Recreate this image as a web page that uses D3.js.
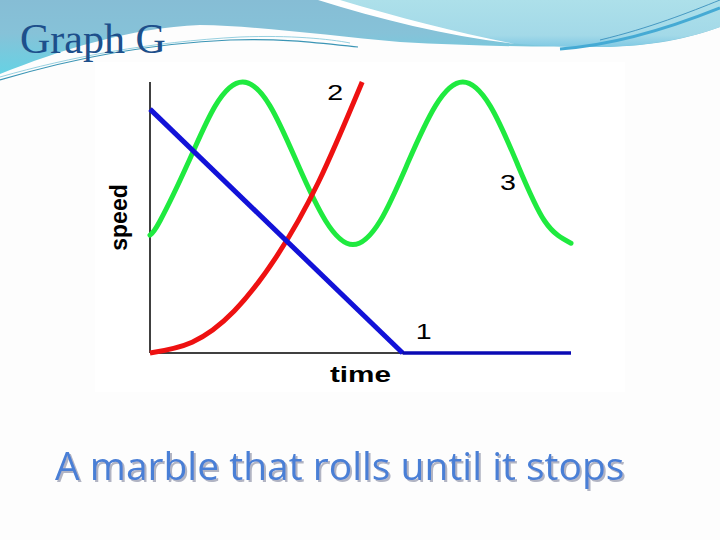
<!DOCTYPE html>
<html>
<head>
<meta charset="utf-8">
<script src="https://cdn.jsdelivr.net/npm/d3@7"></script>
<style>
  html, body { margin: 0; padding: 0; background: #ffffff; }
  svg { display: block; }
</style>
</head>
<body>
<div class="canvas"></div>
<script>
// values (time, speed)
const blueTime = [0, 6, 10]
const blueSpeed = [9, 0, 0]
const redTime = [0, 1, 2, 3, 4, 5.04]
const redSpeed = [0, 0.4, 1.55, 3.55, 6.3, 10]
const greenTime = [0, 0.24, 0.9, 1.55, 2.2, 2.85, 3.5, 4.17, 4.82, 5.47, 6.12, 6.78, 7.43, 8.08, 8.72, 9.37, 10]
const greenSpeed = [4.35, 4.88, 7, 9.12, 10, 9.12, 7, 4.88, 4, 4.88, 7, 9.12, 10, 9.12, 7, 4.88, 4.05]
const curveLabels = [
  { name: "1", time: 6.5, speed: 0.5 },
  { name: "2", time: 4.4, speed: 9.35 },
  { name: "3", time: 8.5, speed: 6.0 }
]

const W = 720, H = 540
const svg = d3
  .select(".canvas")
  .append("svg")
  .attr("width", W)
  .attr("height", H)

// slide background
const defs = svg.append("defs")
const g1 = defs.append("linearGradient").attr("id", "band")
  .attr("x1", 0).attr("y1", 0).attr("x2", 0).attr("y2", 1)
g1.append("stop").attr("offset", "0%").attr("stop-color", "#86bdd5")
g1.append("stop").attr("offset", "45%").attr("stop-color", "#86c2d8")
g1.append("stop").attr("offset", "100%").attr("stop-color", "#66d2e4")
const g2 = defs.append("linearGradient").attr("id", "rightBand")
  .attr("x1", 0).attr("y1", 0).attr("x2", 0).attr("y2", 1)
g2.append("stop").attr("offset", "0%").attr("stop-color", "#ade0ea")
g2.append("stop").attr("offset", "75%").attr("stop-color", "#a3d9e8")
g2.append("stop").attr("offset", "100%").attr("stop-color", "#80c9e4")
defs.append("filter").attr("id", "shadow")
  .attr("x", "-5%").attr("y", "-20%").attr("width", "110%").attr("height", "140%")
  .append("feDropShadow")
  .attr("dx", 2).attr("dy", 2).attr("stdDeviation", 0.6)
  .attr("flood-color", "#9ea3b5").attr("flood-opacity", 0.8)

svg.append("rect").attr("width", W).attr("height", H).attr("fill", "#fdfdfd")
svg.append("path")
  .attr("d", "M0,0 H720 V27 C690,38 650,47 600,47 C540,47 470,46 400,42 C330,36 260,26 200,25 C130,28 60,50 0,74 Z")
  .attr("fill", "url(#band)")
svg.append("path")
  .attr("d", "M330,0 H720 V27 C690,38 650,46 600,47 C560,47 530,45 508,43 C440,30 385,16 330,0 Z")
  .attr("fill", "url(#rightBand)")
svg.append("path")
  .attr("d", "M318,0 L340,0 C400,18 460,33 515,44 C450,36 380,20 318,0 Z")
  .attr("fill", "#ffffff")
svg.append("path")
  .attr("d", "M560,49 C620,45 680,24 720,8")
  .attr("fill", "none").attr("stroke", "#45aad4").attr("stroke-width", 3)
svg.append("path")
  .attr("d", "M600,40 C650,28 690,12 720,0")
  .attr("fill", "none").attr("stroke", "#2c86b8").attr("stroke-width", 0.8)
svg.append("path")
  .attr("d", "M0,80 C60,62 140,44 230,40 C280,38 320,43 358,47")
  .attr("fill", "none").attr("stroke", "#3b95b5").attr("stroke-width", 1.2)
svg.append("path")
  .attr("d", "M0,77 C70,57 150,42 240,37 C290,35 330,39 350,43")
  .attr("fill", "none").attr("stroke", "#7cc4d8").attr("stroke-width", 0.8)

// title and caption
svg.append("text")
  .attr("x", 20).attr("y", 53)
  .attr("font-family", "Liberation Serif, serif")
  .attr("font-size", 42)
  .attr("fill", "#1d4f8b")
  .text("Graph G")
svg.append("text")
  .attr("x", 55).attr("y", 480)
  .attr("font-family", "Open Sans, sans-serif")
  .attr("font-size", 39)
  .attr("fill", "#4a7fd6")
  .attr("filter", "url(#shadow)")
  .text("A marble that rolls until it stops")

// chart
svg.append("rect")
  .attr("x", 95).attr("y", 62).attr("width", 530).attr("height", 330)
  .attr("fill", "#ffffff")

const x = d3.scaleLinear().domain([0, 10]).range([150, 571])
const y = d3.scaleLinear().domain([0, 10]).range([353, 82])

svg.append("line")
  .attr("x1", x(0)).attr("x2", x(0)).attr("y1", y(0)).attr("y2", y(10))
  .attr("stroke", "#000").attr("stroke-width", 1.5)
svg.append("line")
  .attr("x1", x(0)).attr("x2", x(10)).attr("y1", y(0)).attr("y2", y(0))
  .attr("stroke", "#000").attr("stroke-width", 1.5)

const pts = (ts, ss) => ts.map((t, i) => [t, ss[i]])
const line = d3.line().x(d => x(d[0])).y(d => y(d[1]))

svg.append("path")
  .datum(pts(greenTime, greenSpeed))
  .attr("d", line.curve(d3.curveNatural))
  .attr("fill", "none")
  .attr("stroke", "#1fea3f")
  .attr("stroke-width", 5)
  .attr("stroke-linecap", "round")

svg.append("path")
  .datum(pts(redTime, redSpeed))
  .attr("d", line.curve(d3.curveNatural))
  .attr("fill", "none")
  .attr("stroke", "#ee1111")
  .attr("stroke-width", 5)

const bluePts = pts(blueTime, blueSpeed)
svg.selectAll(".blue")
  .data(d3.pairs(bluePts))
  .enter()
  .append("path")
  .attr("class", "blue")
  .attr("d", d => line.curve(d3.curveLinear)(d))
  .attr("fill", "none")
  .attr("stroke", (d, i) => i === 0 ? "#1212d8" : "#0a0ab4")
  .attr("stroke-width", (d, i) => i === 0 ? 5 : 3.5)

svg.selectAll(".lab")
  .data(curveLabels)
  .enter()
  .append("text")
  .attr("class", "lab")
  .attr("x", d => x(d.time))
  .attr("y", d => y(d.speed))
  .attr("text-anchor", "middle")
  .attr("font-family", "Liberation Sans, Arial, sans-serif")
  .attr("font-size", 22)
  .attr("transform", d => `translate(${x(d.time)},0) scale(1.3,1) translate(${-x(d.time)},0)`)
  .text(d => d.name)

svg.append("text")
  .attr("transform", `translate(${x(5)},382) scale(1.35,1)`)
  .attr("text-anchor", "middle")
  .attr("font-family", "Liberation Sans, Arial, sans-serif")
  .attr("font-size", 22)
  .attr("font-weight", "bold")
  .text("time")

svg.append("text")
  .attr("transform", `translate(127,${y(5)}) rotate(-90)`)
  .attr("text-anchor", "middle")
  .attr("font-family", "Liberation Sans, Arial, sans-serif")
  .attr("font-size", 23)
  .attr("font-weight", "bold")
  .text("speed")
</script>
</body>
</html>
